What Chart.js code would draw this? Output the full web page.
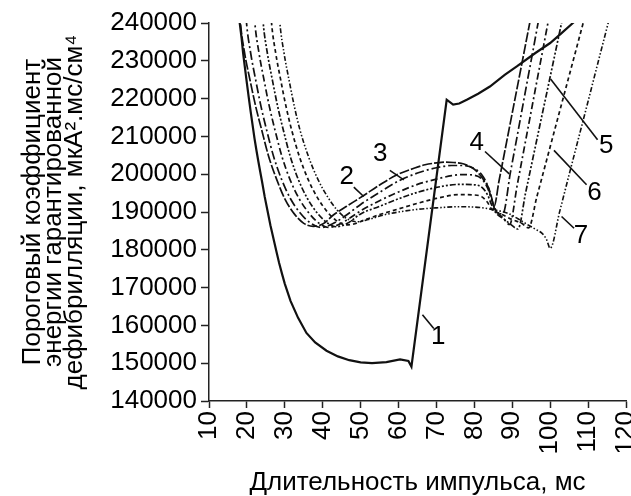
<!DOCTYPE html>
<html><head><meta charset="utf-8">
<script src="https://cdn.jsdelivr.net/npm/chart.js@4/dist/chart.umd.min.js"></script>
<style>html,body{margin:0;padding:0;background:#fff}#wrap{width:631px;height:496px}</style>
</head><body><div id="wrap"><canvas id="c" width="631" height="496"></canvas></div>
<script>
// ---- data ----
const xTicks = [10,20,30,40,50,60,70,80,90,100,110,120];
const yTicks = [140000,150000,160000,170000,180000,190000,200000,210000,220000,230000,240000];

const c1X = [18.0,18.1,18.6,19,19.5,20,20.5,21,21.5,22,22.5,23,23.5,24,24.7,25.5,26.2,27,27.8,28.5,29.3,30,31.5,33.5,35.7,38,41,44,47,50,53,56.8,60.4,62.6,63.4,72.7,74.4,76,78,81,84.1,88,91.2,96,100,103,106,107.5];
const c1Y = [246000,240000,236000,232000,228000,224000,220200,216500,213000,209500,206400,203500,200700,198000,194000,190000,186500,183000,179500,176500,173500,171000,166500,162000,158000,155500,153300,151800,150800,150200,150000,150300,151000,150600,149100,219700,218400,218700,219700,221300,223200,226300,228500,232000,234700,237300,240000,241400];

const c2X = [17.9,18.3,19.4,20.8,22.3,23.9,25.8,27.9,30,32.5,35,37.5,40,42.8,46.3,50.7,55.1,59.5,63.9,67,70.1,72.5,74.5,76.5,78,80,81.5,82.8,83.7,84.5,85.2,86.5,88.5,90.5,92.5,94.6,95.5];
const c2Y = [246000,240000,232000,225000,218000,211700,204500,198500,193500,189500,187000,186200,186800,189200,191500,194300,197200,199800,201500,202500,203000,203200,203100,202900,202400,201300,199800,198000,196500,194000,191500,198200,208500,218800,229100,240000,244600];

const c3X = [19.5,19.9,21,22.3,23.7,25.2,27.1,29.2,31.5,34,36.5,39.5,42.5,46,50,55,60,65,70,74,77,80,82,83.5,84.5,85.5,87.5,89.5,91.5,93.5,95.5,96.8,97.7];
const c3Y = [246000,240000,232000,225000,218000,211700,204500,198500,193500,189800,187300,185900,186800,189000,192000,195200,198200,200300,201700,202300,202300,201500,199800,197000,193500,190500,189500,200400,211200,222100,232900,240000,244900];

const c4X = [21.7,22.1,23.2,24.5,25.9,27.4,29.3,31.4,33.8,36.3,38.8,41.5,44.5,47,50,55,60,65,70,74,77,80,82,83.5,84.5,85.5,87.5,89.3,91.3,93.3,95.3,97.3,99.4,100.3];
const c4Y = [246000,240000,232000,225000,218000,211700,204500,198500,193500,189800,187200,185900,186800,188300,190300,193000,195300,197300,198700,199600,199900,199700,198700,196300,193500,190800,188500,186700,197100,207700,218300,228900,240000,244800];

const c5X = [23.9,24.3,25.4,26.7,28.1,29.6,31.5,33.6,36,38.5,41,43.5,46.5,50,55,60,65,70,76,80,82,83.5,84.5,85.5,88,89.5,91.5,93.5,95.5,97.5,99.5,101.5,103,104];
const c5Y = [246000,240000,232000,225000,218000,211700,204500,198500,193500,189800,187300,186100,187000,189500,191500,193500,195200,196500,197300,197200,196500,194500,192000,190000,188000,186800,185500,195000,204500,214000,223400,232900,240000,244700];

const c6X = [26.1,26.5,27.6,28.9,30.3,31.8,33.9,36.2,38.6,41,43.5,46,48.5,50,55,60,65,70,76,80,82,83.5,84.5,87,90,92.5,94.3,96.5,99,101.5,104,106.5,108.7,110];
const c6Y = [246000,240000,232000,225000,218000,211700,204500,198500,193800,190300,187800,186600,186900,187500,189300,190800,192300,193600,194600,194500,194000,192500,190800,189500,188000,187000,185800,194100,203500,212900,222300,231700,240000,244900];

const c7X = [28.3,28.7,29.8,31.1,32.5,34,36.3,38.8,41.3,43.8,46.3,49,52,56,60,65,70,76,80,83,84.5,87,89,91.5,94.3,96,97.8,99,100,102.5,105,107.5,110,112.5,115.3,116.5];
const c7Y = [246000,240000,232000,225000,218000,211700,204500,198500,194000,190500,188300,187400,188000,189200,190000,190700,191100,191400,191300,191000,190700,190200,189600,188200,186500,185500,184400,182800,180400,190100,199900,209600,219300,229100,240000,244700];

// curve labels (text, label centre, leader line start/end) in data units
const labelText = ['1','2','3','4','5','6','7'];
const labelX = [70.5,46.3,55.2,80.6,114.8,111.7,108.1];
const labelY = [156900,199400,205400,208400,207500,195200,183700];
const leadX1 = [66.3,48.2,57.7,82.8,100.1,101.0,103.0];
const leadY1 = [162800,196600,201000,206000,225200,206300,188800];
const leadX2 = [69.3,50.8,61.4,89.2,112.5,109.6,106.3];
const leadY2 = [159200,194100,198500,200100,209100,197200,185700];

// ---- build ----
const FONT = "'Liberation Sans', Arial, sans-serif";
const seriesX = [c1X,c2X,c3X,c4X,c5X,c6X,c7X];
const seriesY = [c1Y,c2Y,c3Y,c4Y,c5Y,c6Y,c7Y];
const dashes = [[], [10,2], [9,3,2,3], [7,3,2,3], [6,2,2,2,2,2], [4,3], [5,2,1.5,2,1.5,2]];
const widths = [2.2,1.7,1.7,1.7,1.7,1.7,1.6];

const datasets = seriesX.map((xs,i)=>({
  label: 'Кривая ' + (i+1),
  data: xs.map((x,j)=>({x:x, y:seriesY[i][j]})),
  borderColor: '#111',
  borderWidth: widths[i],
  borderDash: dashes[i],
  pointRadius: 0,
  fill: false,
  tension: 0,
  cubicInterpolationMode: i === 0 ? 'default' : 'monotone'
}));

const labelPlugin = {
  id: 'curveLabels',
  afterDatasetsDraw(chart){
    const {ctx, scales:{x, y}} = chart;
    ctx.save();
    ctx.strokeStyle = '#111';
    ctx.lineWidth = 1.6;
    ctx.fillStyle = '#000';
    ctx.font = "26px " + FONT;
    ctx.textAlign = 'center';
    ctx.textBaseline = 'middle';
    for (let i=0;i<labelText.length;i++){
      ctx.beginPath();
      ctx.moveTo(x.getPixelForValue(leadX1[i]), y.getPixelForValue(leadY1[i]));
      ctx.lineTo(x.getPixelForValue(leadX2[i]), y.getPixelForValue(leadY2[i]));
      ctx.stroke();
      ctx.fillText(labelText[i], x.getPixelForValue(labelX[i]), y.getPixelForValue(labelY[i]));
    }
    ctx.restore();
  }
};

new Chart(document.getElementById('c'), {
  type: 'line',
  data: { datasets },
  options: {
    responsive: false,
    animation: false,
    layout: { padding: { top: 23, right: 5, left: 0, bottom: 0 } },
    plugins: { legend: { display: false }, tooltip: { enabled: false } },
    scales: {
      x: {
        type: 'linear',
        min: xTicks[0], max: xTicks[xTicks.length-1],
        afterBuildTicks: s => { s.ticks = xTicks.map(v=>({value:v})); },
        afterFit: s => { s.height = 95; s.paddingLeft = 0; s.paddingRight = 0; },
        grid: { drawOnChartArea: false, drawTicks: true, tickLength: 7, color: '#222', tickWidth: 1.5 },
        border: { display: true, color: '#222', width: 1.5 },
        ticks: { color: '#000', font: { family: FONT, size: 26 }, minRotation: 90, maxRotation: 90, padding: 3, callback: v => String(v) },
        title: { display: true, text: 'Длительность импульса, мс', color: '#000', font: { family: FONT, size: 26, lineHeight: 1.0 }, padding: { top: 0, bottom: 0 } }
      },
      y: {
        type: 'linear',
        min: yTicks[0], max: yTicks[yTicks.length-1],
        afterBuildTicks: s => { s.ticks = yTicks.map(v=>({value:v})); },
        afterFit: s => { s.width = 209; s.paddingTop = 0; s.paddingBottom = 0; },
        grid: { drawOnChartArea: false, drawTicks: true, tickLength: 8, color: '#222', tickWidth: 1.5 },
        border: { display: true, color: '#222', width: 1.5 },
        ticks: { color: '#000', font: { family: FONT, size: 26 }, padding: 4, callback: v => String(v) },
        title: { display: true, text: ['Пороговый коэффициент','энергии гарантированной','дефибрилляции, мкА².мс/см⁴'], color: '#000', font: { family: FONT, size: 26, lineHeight: '21px' }, padding: { top: 22, bottom: 0 } }
      }
    }
  },
  plugins: [labelPlugin]
});
</script>
</body></html>
